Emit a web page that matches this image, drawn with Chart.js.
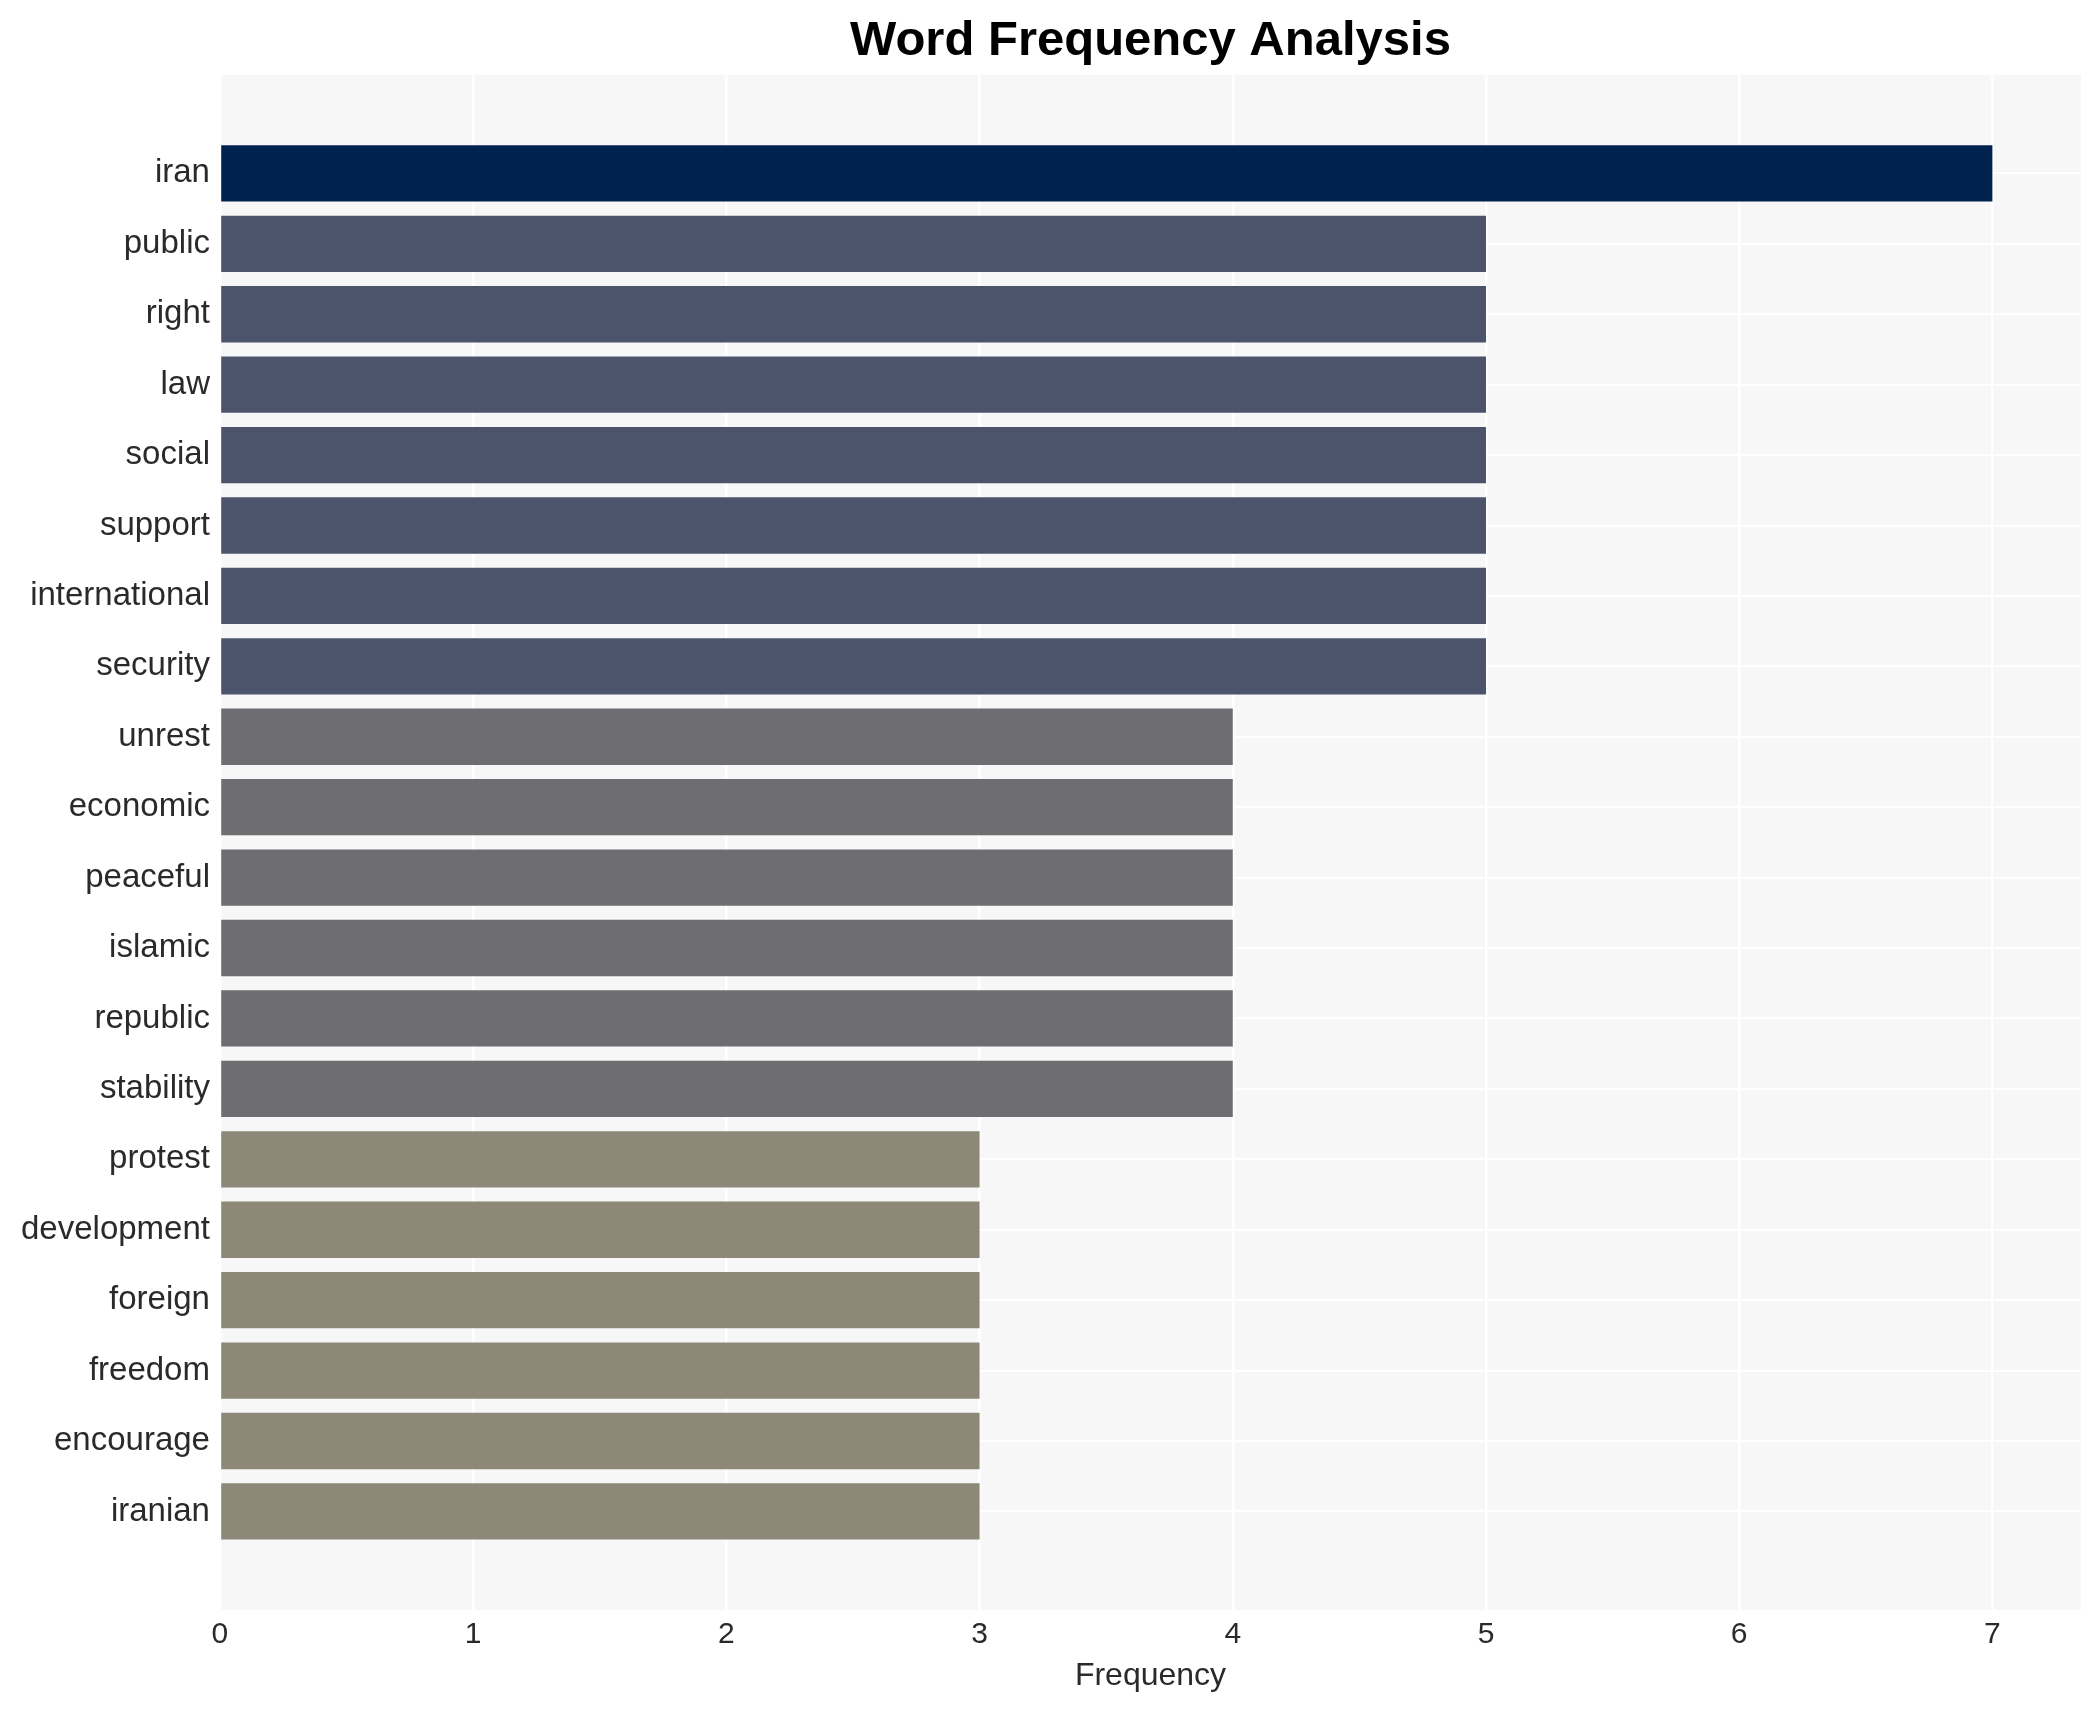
<!DOCTYPE html>
<html>
<head>
<meta charset="utf-8">
<script src="https://cdn.jsdelivr.net/npm/chart.js@4/dist/chart.umd.min.js"></script>
<style>
    html, body { margin: 0; padding: 0; background: #ffffff; }
    #wrap { width: 2100px; height: 1710px; }
</style>
</head>
<body>
<div id="wrap"><canvas id="chart" width="2100" height="1710"></canvas></div>
<script>
'use strict';

/* global Chart */

// word counts, top to bottom
const words = ['iran', 'public', 'right', 'law', 'social', 'support', 'international', 'security',
    'unrest', 'economic', 'peaceful', 'islamic', 'republic', 'stability',
    'protest', 'development', 'foreign', 'freedom', 'encourage', 'iranian'];
const counts = [7, 5, 5, 5, 5, 5, 5, 5, 4, 4, 4, 4, 4, 4, 3, 3, 3, 3, 3, 3];
const xTicks = [0, 1, 2, 3, 4, 5, 6, 7];

const chartTitle = 'Word Frequency Analysis';
const xTitle = 'Frequency';

// bar colour by count (cividis-like)
const shade = { 7: '#00224e', 5: '#4c546c', 4: '#6e6e72', 3: '#8d8878' };
const fontFamily = '"Liberation Sans", Arial, Helvetica, sans-serif';

let plotBg = {
    id: 'plotBg',
    beforeDraw(c) {
        const a = c.chartArea;
        c.ctx.save();
        c.ctx.fillStyle = '#f7f7f7';
        c.ctx.fillRect(a.left, a.top, a.right - a.left, a.bottom - a.top);
        c.ctx.restore();
    }
};

let chart = new Chart(document.getElementById('chart'), {
    type: 'bar',
    data: {
        datasets: [{
            label: xTitle,
            data: counts.map((v, i) => ({ x: v, y: i })),
            backgroundColor: (ctx) => shade[ctx.raw ? ctx.raw.x : 3] || '#8d8878',
            borderWidth: 0,
            barPercentage: 0.8,
            categoryPercentage: 1.0
        }]
    },
    options: {
        indexAxis: 'y',
        responsive: false,
        animation: false,
        layout: { padding: { left: 11, right: 19, top: 6, bottom: 18 } },
        plugins: {
            legend: { display: false },
            tooltip: { enabled: false },
            title: {
                display: true,
                text: chartTitle,
                fullSize: false,
                color: '#000000',
                font: { family: fontFamily, size: 49, weight: 'bold' },
                padding: { top: 6, bottom: 4 }
            }
        },
        scales: {
            x: {
                type: 'linear',
                min: 0,
                max: 7.35,
                afterBuildTicks: (s) => { s.ticks = xTicks.map((v) => ({ value: v })); },
                grid: { color: '#ffffff', lineWidth: 2.5, drawTicks: false },
                border: { display: false },
                ticks: {
                    color: '#2a2a2a',
                    padding: 10,
                    font: { family: fontFamily, size: 30, lineHeight: 1 }
                },
                title: {
                    display: true,
                    text: xTitle,
                    color: '#2a2a2a',
                    font: { family: fontFamily, size: 32, lineHeight: 1 },
                    padding: { top: 0, bottom: 0 }
                }
            },
            y: {
                type: 'linear',
                reverse: true,
                offset: false,
                min: -1.4,
                max: 20.4,
                afterBuildTicks: (s) => { s.ticks = words.map((w, i) => ({ value: i })); },
                grid: { color: '#ffffff', lineWidth: 2, drawTicks: false, offset: false },
                border: { display: false },
                ticks: {
                    color: '#2a2a2a',
                    padding: 10,
                    autoSkip: false,
                    font: { family: fontFamily, size: 33 },
                    callback: (v) => words[v] || ''
                }
            }
        }
    },
    plugins: [plotBg]
});
</script>
</body>
</html>
